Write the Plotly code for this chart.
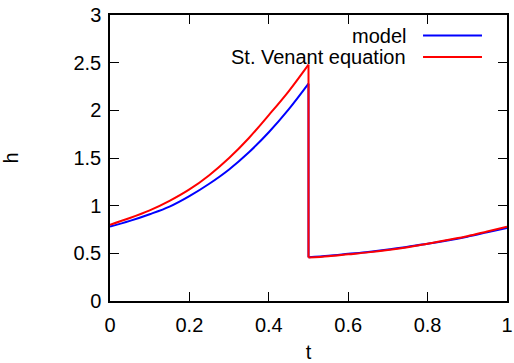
import plotly.graph_objects as go

# ---- data ----
t_model = [0.0, 0.05, 0.1, 0.15, 0.2, 0.25, 0.3, 0.35, 0.4, 0.45, 0.5,
           0.5, 0.55, 0.6, 0.65, 0.7, 0.75, 0.8, 0.85, 0.9, 0.95, 1.0]
h_model = [0.78, 0.84, 0.91, 0.99, 1.10, 1.23, 1.38, 1.56, 1.77, 2.01, 2.28,
           0.46, 0.475, 0.495, 0.515, 0.54, 0.57, 0.60, 0.635, 0.675, 0.72, 0.765]

t_venant = [0.0, 0.05, 0.1, 0.15, 0.2, 0.25, 0.3, 0.35, 0.4, 0.45, 0.5,
            0.5, 0.55, 0.6, 0.65, 0.7, 0.75, 0.8, 0.85, 0.9, 0.95, 1.0]
h_venant = [0.80, 0.87, 0.95, 1.05, 1.17, 1.32, 1.50, 1.71, 1.95, 2.20, 2.48,
            0.455, 0.47, 0.49, 0.51, 0.535, 0.565, 0.60, 0.64, 0.68, 0.73, 0.78]

series_names = ["model", "St. Venant equation"]
series_colors = ["#0000ff", "#ff0000"]

x_tickvals = [0, 0.2, 0.4, 0.6, 0.8, 1]
x_ticktext = ["0", "0.2", "0.4", "0.6", "0.8", "1"]
y_tickvals = [0, 0.5, 1, 1.5, 2, 2.5, 3]
y_ticktext = ["0", "0.5", "1", "1.5", "2", "2.5", "3"]

FONT = "Liberation Sans, Arial, sans-serif"
FS = 20

fig = go.Figure()
for tx, hy, name, col in [(t_model, h_model, series_names[0], series_colors[0]),
                          (t_venant, h_venant, series_names[1], series_colors[1])]:
    j = 10  # index of the last point before the jump
    fig.add_trace(go.Scatter(x=tx[:j + 1], y=hy[:j + 1], mode="lines", name=name,
                             line=dict(color=col, width=2, shape="spline", smoothing=1.0),
                             showlegend=False))
    fig.add_trace(go.Scatter(x=tx[j:j + 2], y=hy[j:j + 2], mode="lines", name=name,
                             line=dict(color=col, width=2), showlegend=False))
    fig.add_trace(go.Scatter(x=tx[j + 1:], y=hy[j + 1:], mode="lines", name=name,
                             line=dict(color=col, width=2, shape="spline", smoothing=1.0),
                             showlegend=False))

# gnuplot-style legend: text right-aligned, then line sample
leg_y = [0.928, 0.853]
for name, col, yy in zip(series_names, series_colors, leg_y):
    fig.add_annotation(xref="paper", yref="paper", x=0.7515, y=yy,
                       xanchor="right", yanchor="middle", text=name,
                       showarrow=False, font=dict(family=FONT, size=FS, color="black"))
    fig.add_shape(type="line", xref="paper", yref="paper",
                  x0=0.7885, x1=0.937, y0=yy, y1=yy,
                  line=dict(color=col, width=2))

axis_common = dict(showline=True, linecolor="black", linewidth=1.5,
                   mirror="ticks", ticks="inside", ticklen=9, tickwidth=1,
                   tickcolor="black", showgrid=False, zeroline=False,
                   automargin=False, ticklabeloverflow="allow",
                   tickfont=dict(family=FONT, size=FS, color="black"))

fig.update_layout(
    width=514, height=363,
    margin=dict(l=110, r=7, t=15, b=62),
    paper_bgcolor="white", plot_bgcolor="white",
    font=dict(family=FONT, size=FS, color="black"),
    xaxis=dict(range=[0, 1], tickvals=x_tickvals, ticktext=x_ticktext,
               title=dict(text="t", standoff=14, font=dict(family=FONT, size=FS)),
               ticklabelstandoff=5, **axis_common),
    yaxis=dict(range=[0, 3], tickvals=y_tickvals, ticktext=y_ticktext,
               title=dict(text="h", standoff=57, font=dict(family=FONT, size=FS)),
               ticklabelstandoff=3, **axis_common),
)

fig.write_html("out.html", config={"displayModeBar": False},
               post_script="document.body.style.margin='0px';")
